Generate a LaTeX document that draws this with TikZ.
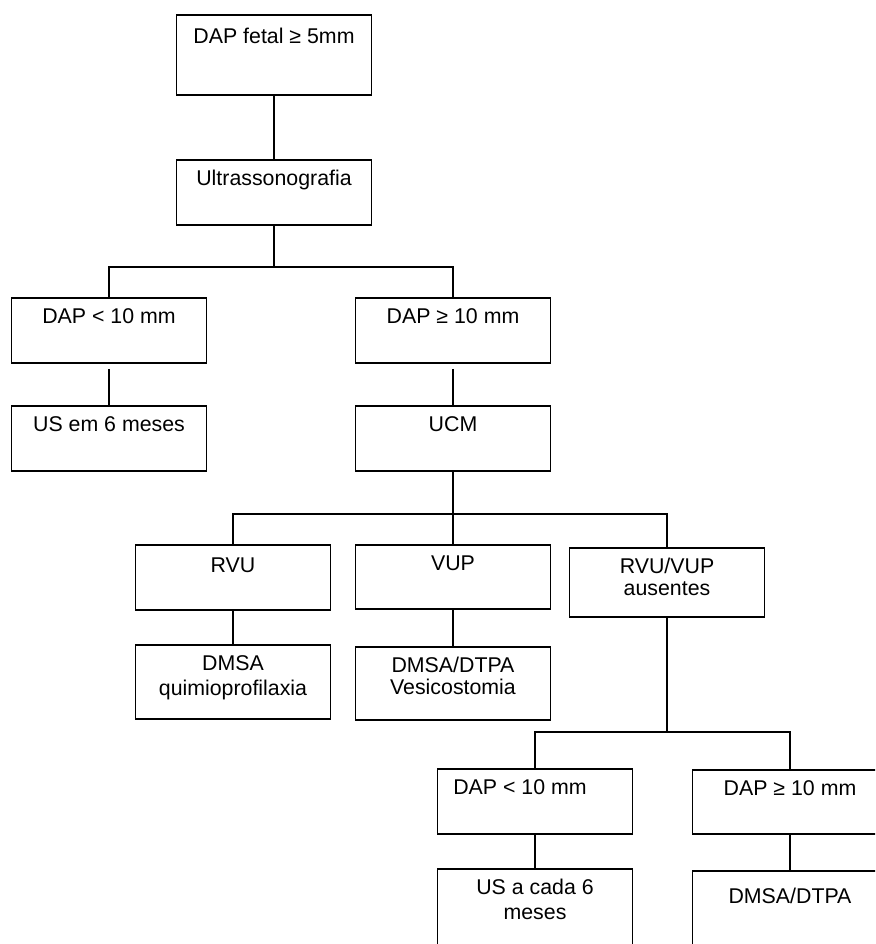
\documentclass[tikz,border=0pt]{standalone}
\usepackage{fontspec}
\setmainfont{Liberation Sans}
\usepackage{tikz}
\usetikzlibrary{positioning}
\newcommand{\boxfont}{\fontsize{16}{18.75}\selectfont}
\tikzset{
  box/.style={draw, rectangle, line width=1.3pt, minimum width=146.25pt, inner sep=0pt},
  lbl/.style={anchor=north, align=center, inner sep=0pt, font=\boxfont, yshift=-8.25pt},
  tie/.style={line width=1.3pt}
}

\begin{document}
\begin{tikzpicture}[x=0.75pt, y=-0.75pt]
    \clip (0,0) rectangle (875,944);
    \fill[white] (0,0) rectangle (875,944);

    \node[box, minimum height=60pt, label={[lbl, yshift=-2.25pt]north:{DAP fetal ≥ 5mm}}] (dapfetal) at (274,55) {};
    \node[box, minimum height=48.75pt, label={[lbl]north:{Ultrassonografia}}] (us) at (274,192.5) {};

    \node[box, minimum height=48.75pt, label={[lbl]north:{DAP < 10 mm}}] (dapmenor) at (109,330.5) {};
    \node[box, minimum height=48.75pt, label={[lbl]north:{DAP ≥ 10 mm}}] (dapmaior) at (453,330.5) {};
    \node[box, minimum height=48.75pt, label={[lbl]north:{US em 6 meses}}] (usseis) at (109,438.5) {};
    \node[box, minimum height=48.75pt, label={[lbl]north:{UCM}}] (ucm) at (453,438.5) {};

    \node[box, minimum height=48.75pt, label={[lbl, yshift=-1.5pt]north:{RVU}}] (rvu) at (233,577.5) {};
    \node[box, minimum height=48pt, label={[lbl]north:{VUP}}] (vup) at (453,577) {};
    \node[box, minimum height=51.75pt, label={[lbl]north:{RVU/VUP\\[-2.2pt]ausentes}}] (ausentes) at (667,582.5) {};
    \node[box, minimum height=55.5pt, label={[lbl]north:{DMSA\\quimioprofilaxia}}] (dmsa) at (233,682) {};
    \node[box, minimum height=54.75pt, label={[lbl]north:{DMSA/DTPA\\[-2.2pt]Vesicostomia}}] (vesico) at (453,683.5) {};

    \node[box, minimum height=48.75pt, label={[lbl, xshift=-11.25pt]north:{DAP < 10 mm}}] (dapmenorb) at (535,801.5) {};
    \node[box, minimum height=48pt, label={[lbl]north:{DAP ≥ 10 mm}}] (dapmaiorb) at (790,802) {};
    \node[box, minimum height=60.75pt, label={[lbl]north:{US a cada 6\\meses}}] (uscada) at (535,909.5) {};
    \node[box, minimum height=59.25pt, label={[lbl, yshift=-5.25pt]north:{DMSA/DTPA}}] (dtpa) at (790,910.5) {};

    \coordinate (j1) at (274,267);
    \coordinate (j2) at (453,514);
    \coordinate (j3) at (667,732);

    \draw[tie] (dapfetal) -- (us);
    \draw[tie] (us) -- (j1);
    \draw[tie] (dapmenor) |- (j1) -| (dapmaior);
    \draw[tie, shorten <=3.75pt] (dapmenor) -- (usseis);
    \draw[tie, shorten <=3.75pt] (dapmaior) -- (ucm);

    \draw[tie] (ucm) -- (vup);
    \draw[tie] (rvu) |- (j2) -| (ausentes);
    \draw[tie] (rvu) -- (dmsa);
    \draw[tie] (vup) -- (vesico);

    \draw[tie] (ausentes) -- (j3);
    \draw[tie] (dapmenorb) |- (j3) -| (dapmaiorb);
    \draw[tie] (dapmenorb) -- (uscada);
    \draw[tie] (dapmaiorb) -- (dtpa);
\end{tikzpicture}
\end{document}
